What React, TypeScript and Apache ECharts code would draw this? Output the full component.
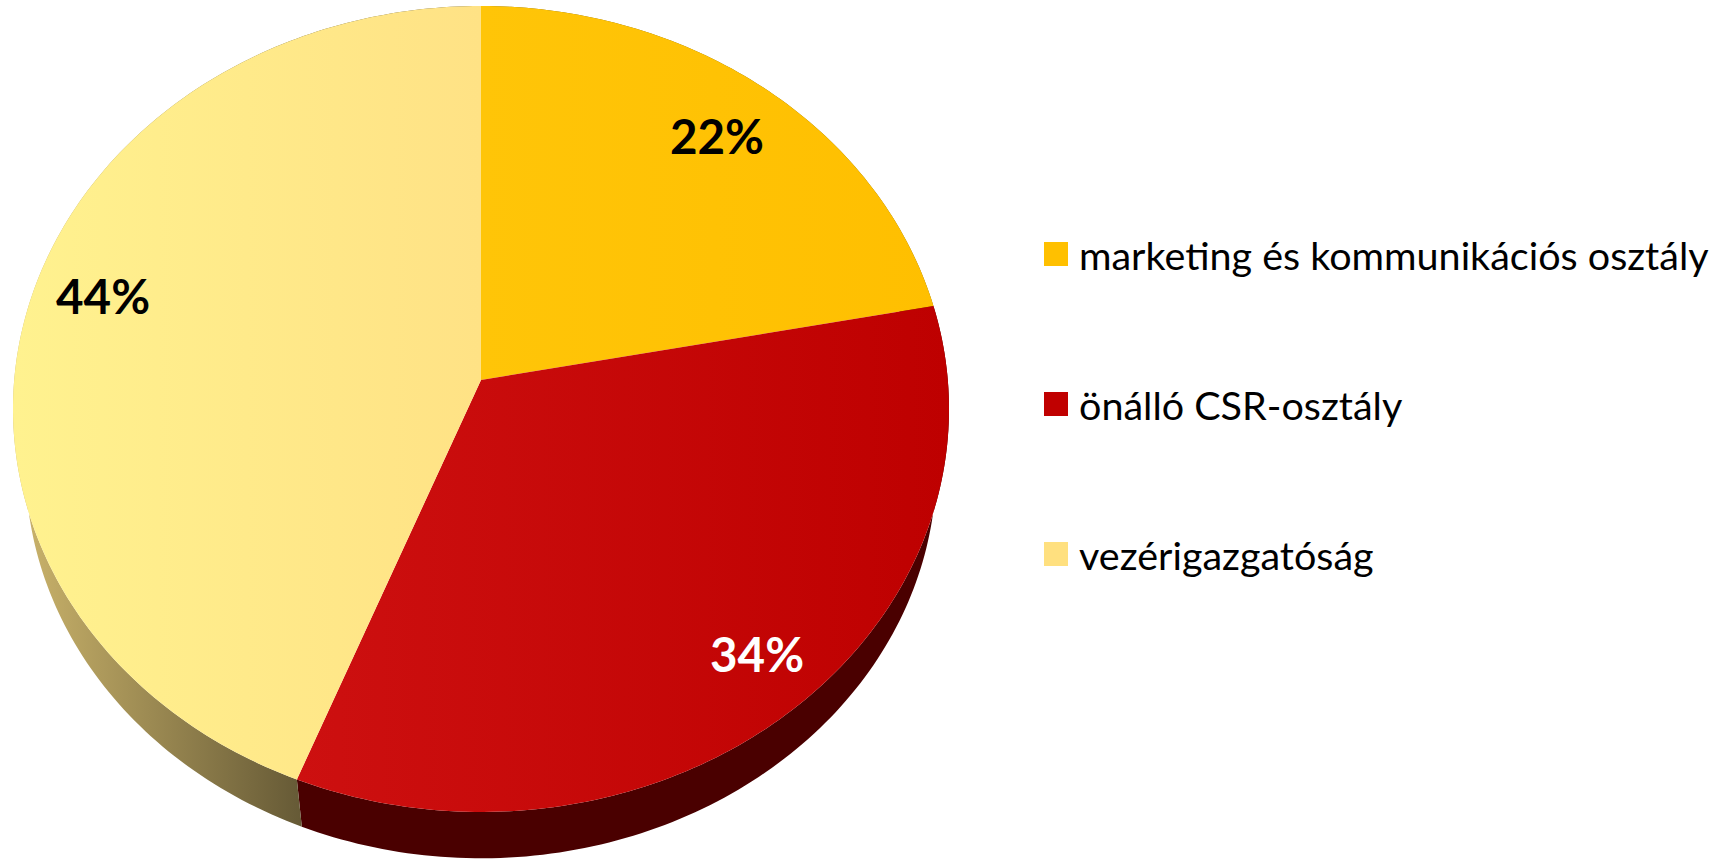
import React, { useEffect, useRef } from "react";
import * as echarts from "echarts";

const categories = ["marketing és kommunikációs osztály", "önálló CSR-osztály", "vezérigazgatóság"];
const shares = [22, 34, 44];
const legendColors = ["#FFC000", "#C00000", "#FFE07F"];
const topStops = [
  ["#FFC508", "#FFBF00"],
  ["#CD1010", "#BE0000"],
  ["#FFF28F", "#FFE285"],
];
const sideStops = [
  ["#7F6000", "#7F6000"],
  ["#4A0000", "#4A0000"],
  ["#C9B26A", "#665A36"],
];
const sideRanges = [
  [481, 950],
  [297, 950],
  [25, 300],
];
const labelColors = ["#000000", "#FFFFFF", "#000000"];
const labelNudge = [
  [8, -8],
  [27, 15],
  [-15, -25],
];

// Projective view of the pie disc
const APEX_X = 481;
const APEX_Y = 380;
const RX = 466.8;
const RY = 400.9;
const PERSPECTIVE = 0.0719;
const THICK_SCALE = 0.973;
const THICK_DROP = 58;
const LABEL_FONT = "Lato";

const total = shares.reduce((a, b) => a + b, 0);

function project(theta: number, r: number, lower = false): [number, number] {
  const u = r * Math.sin(theta);
  const v = r * Math.cos(theta);
  const w = 1 + PERSPECTIVE * v;
  const X = (RX * u) / w;
  const Y = (RY * v) / w;
  if (lower) return [APEX_X + X * THICK_SCALE, APEX_Y - Y * THICK_SCALE + THICK_DROP];
  return [APEX_X + X, APEX_Y - Y];
}

function arc(from: number, to: number, lower = false): [number, number][] {
  const n = Math.max(2, Math.ceil(((to - from) * 180) / Math.PI));
  const pts: [number, number][] = [];
  for (let i = 0; i <= n; i++) pts.push(project(from + ((to - from) * i) / n, 1, lower));
  return pts;
}

function grad(x1: number, x2: number, stops: string[]) {
  return new echarts.graphic.LinearGradient(
    x1, 0, x2, 0,
    [
      { offset: 0, color: stops[0] },
      { offset: 1, color: stops[1] },
    ],
    true,
  );
}

function makeRenderItem(index: number) {
  return (_params: any, api: any) => {
    const value = api.value(0);
    const before = shares.slice(0, index).reduce((a, b) => a + b, 0);
    const from = (before / total) * Math.PI * 2;
    const to = ((before + value) / total) * Math.PI * 2;
    const mid = (from + to) / 2;
    const upper = arc(from, to);
    const lower = arc(from, to, true).reverse();
    const [lx, ly] = project(mid, 0.8);
    const xs = upper.map((p) => p[0]);
    return {
      type: "group",
      children: [
        {
          type: "polygon",
          z2: 1,
          shape: { points: [...upper, ...lower] },
          style: { fill: grad(sideRanges[index][0], sideRanges[index][1], sideStops[index]) },
        },
        {
          type: "polygon",
          z2: 2,
          shape: { points: [[APEX_X, APEX_Y], ...upper] },
          style: {
            fill: grad(index === 2 ? 13 : Math.min(...xs, APEX_X), index === 2 ? 481 : 950, topStops[index]),
          },
        },
        {
          type: "text",
          z2: 3,
          style: {
            text: `${value}%`,
            x: lx + labelNudge[index][0],
            y: ly + labelNudge[index][1],
            fill: labelColors[index],
            font: `bold 47.5px ${LABEL_FONT}`,
            textAlign: "center",
            textVerticalAlign: "middle",
          },
        },
      ],
    };
  };
}

export default function App() {
  const ref = useRef<HTMLDivElement>(null);
  useEffect(() => {
    const chart = echarts.init(ref.current!, null, { renderer: "svg" });
    chart.setOption({
      animation: false,
      backgroundColor: "#FFFFFF",
      legend: {
        orient: "vertical",
        left: 1039,
        top: 222,
        itemWidth: 24,
        itemHeight: 24,
        itemGap: 96,
        icon: "rect",
        selectedMode: false,
        data: categories,
        textStyle: {
          fontFamily: "Lato",
          fontSize: 39.5,
          lineHeight: 50,
          color: "#000000",
          padding: [0, 0, 4, 6],
        },
        itemStyle: { borderWidth: 0 },
      },
      series: categories.map((name, i) => ({
        type: "custom",
        name,
        coordinateSystem: "none",
        silent: true,
        itemStyle: { color: legendColors[i] },
        data: [[shares[i]]],
        renderItem: makeRenderItem(i),
      })),
    });
    return () => chart.dispose();
  }, []);
  return (
    <div
      ref={ref}
      style={{ position: "fixed", left: 0, top: 0, width: 1718, height: 860, background: "#fff" }}
    />
  );
}
